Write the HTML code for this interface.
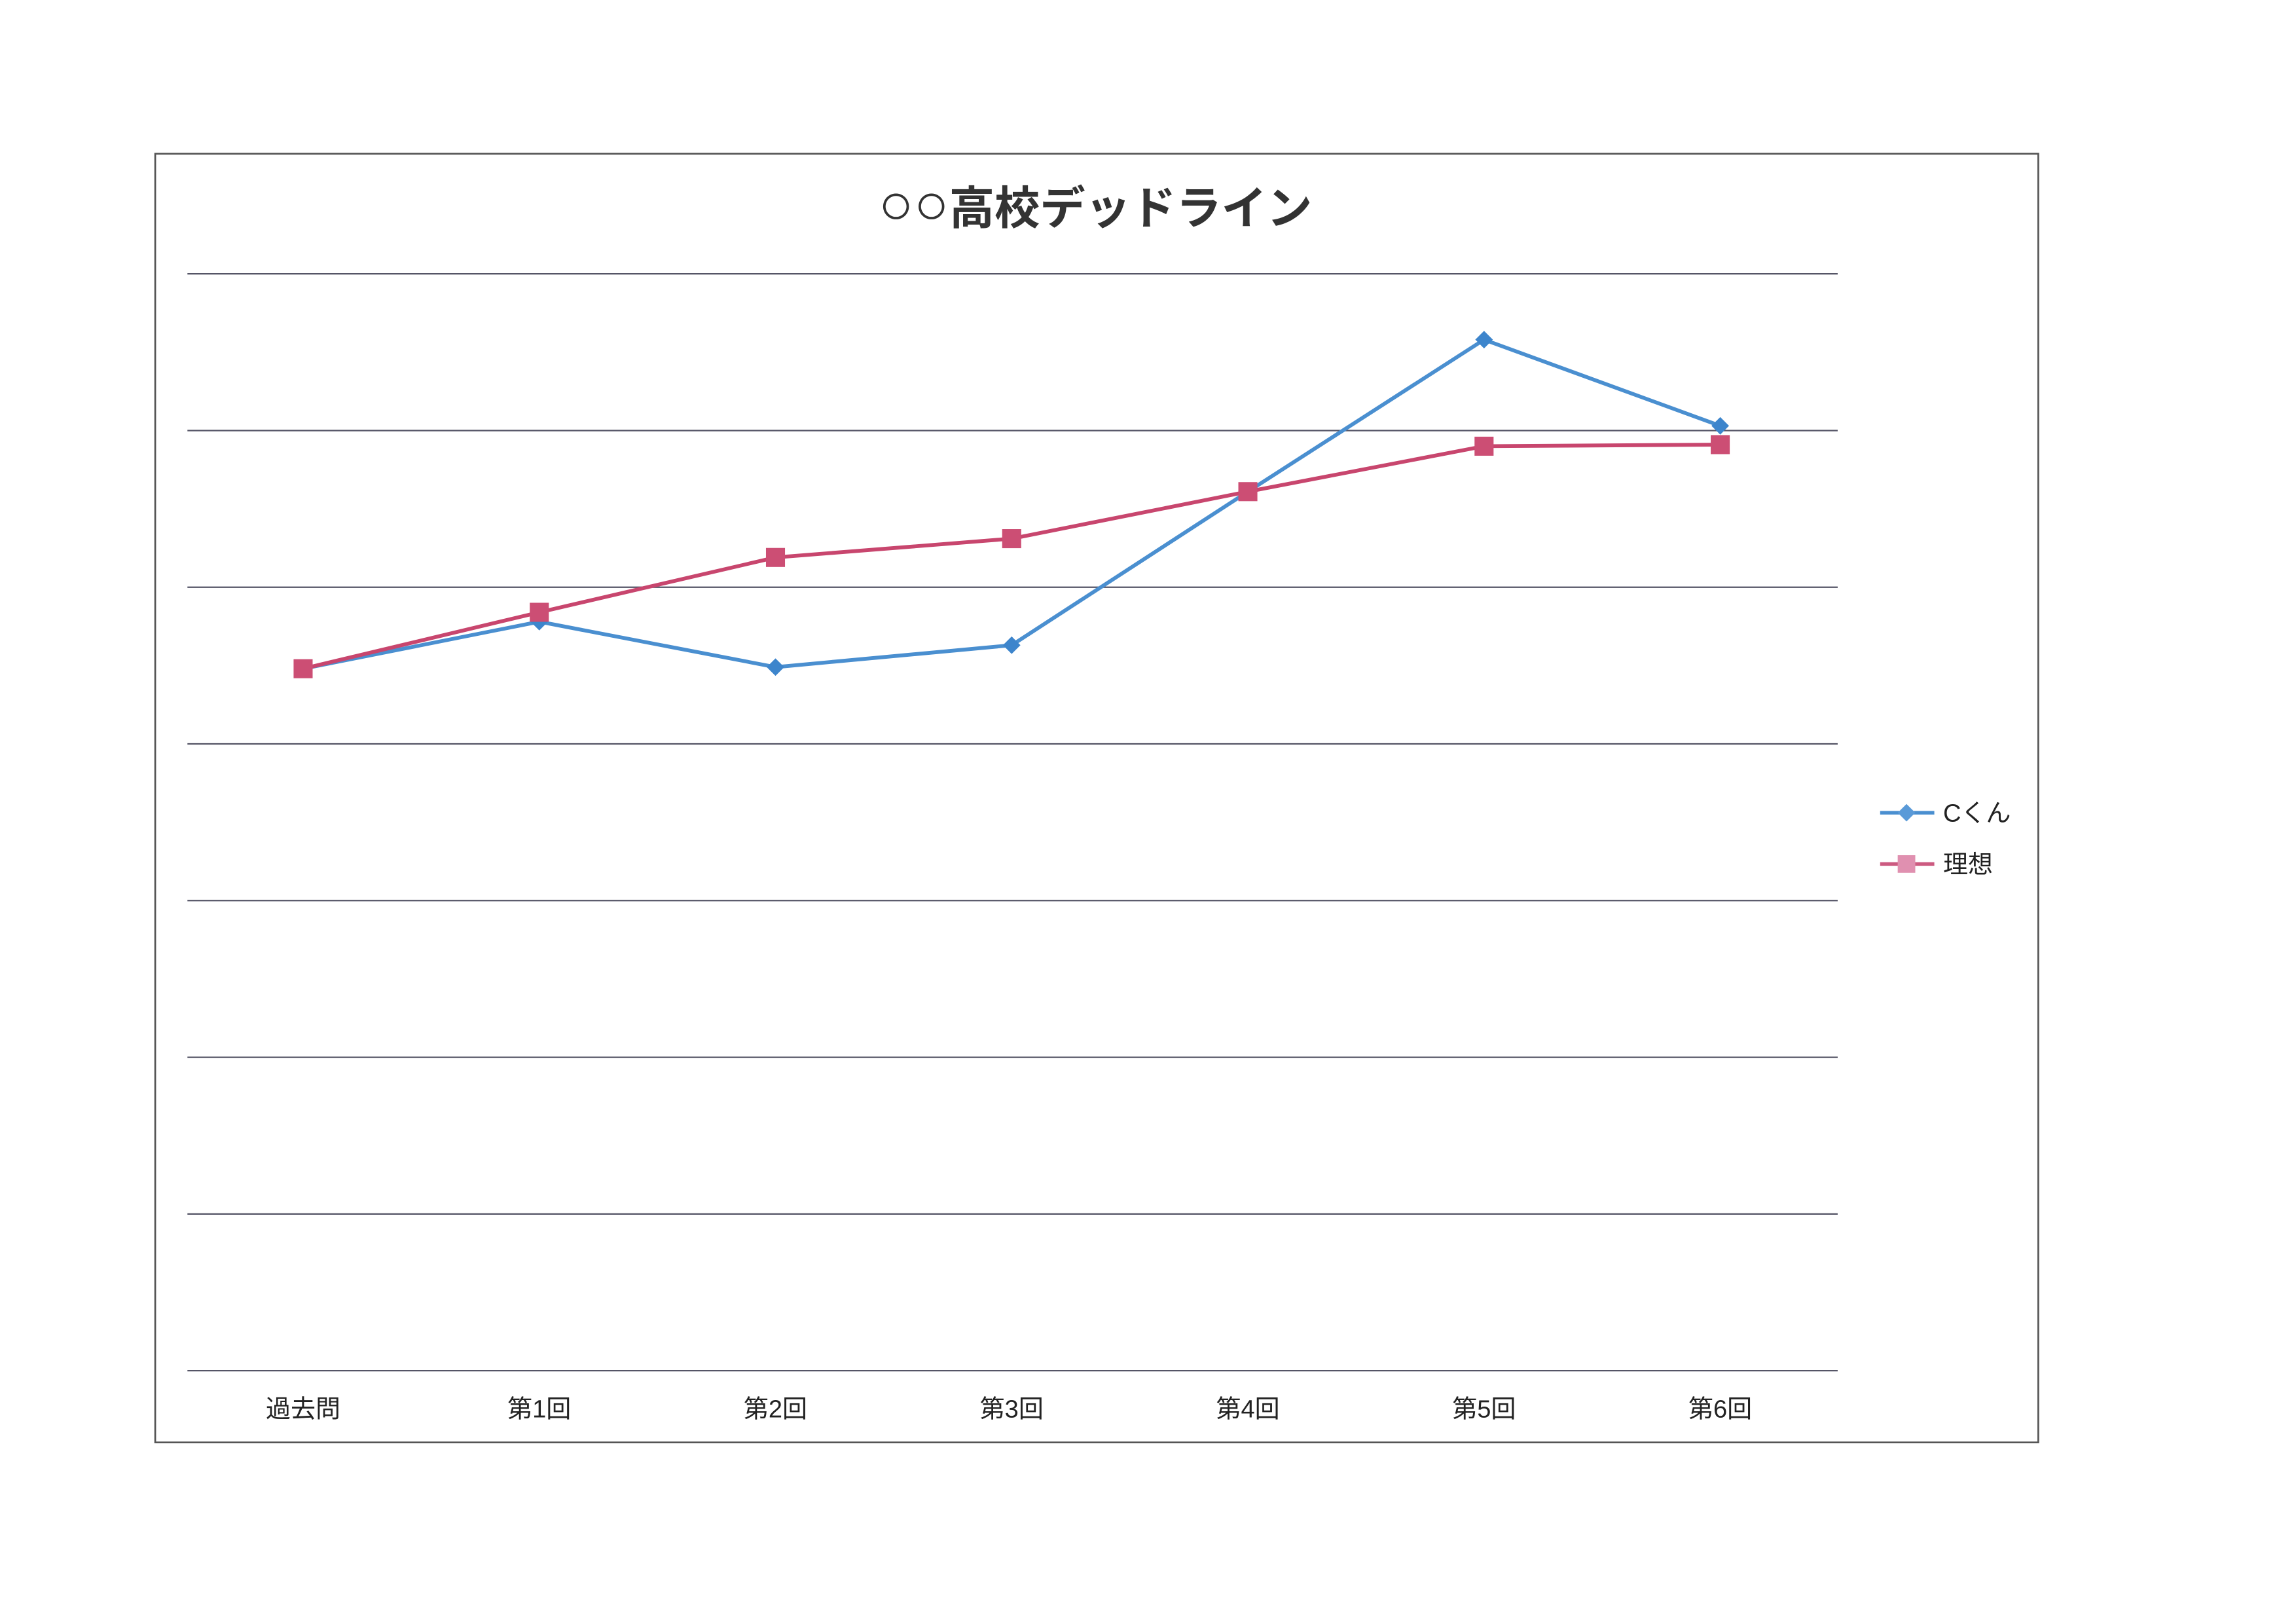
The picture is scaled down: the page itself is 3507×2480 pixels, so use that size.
<!DOCTYPE html>
<html><head><meta charset="utf-8"><style>
html,body{margin:0;padding:0;background:#fff;}
svg{display:block;}
text{font-family:"Liberation Sans","Noto Sans CJK JP",sans-serif;}
</style></head><body>
<svg id="chart" width="3507" height="2480" viewBox="0 0 1568 1109" preserveAspectRatio="none" xmlns="http://www.w3.org/2000/svg">
<rect x="0" y="0" width="1568" height="1109" fill="#fff"/>
<rect x="106" y="105" width="1286" height="880" fill="none" stroke="#555" stroke-width="1.2"/>
<text x="748" y="153" text-anchor="middle" font-size="31" font-weight="bold" fill="#333"><tspan font-size="40" font-weight="normal">○○</tspan>高校デッドライン</text>
<g id="grid"></g>
<g id="xlabels"></g>
<g id="series"></g>
<g>
<line x1="1284" y1="555" x2="1321" y2="555" stroke="#4a8fd0" stroke-width="2.5"/>
<path d="M1302 549 L1308 555 L1302 561 L1296 555 Z" fill="#5a9ad8"/>
<text x="1327" y="561" font-size="17" fill="#222">Cくん</text>
<line x1="1284" y1="590" x2="1321" y2="590" stroke="#cc5a80" stroke-width="2.5"/>
<rect x="1296" y="584" width="12" height="12" fill="#e090b0"/>
<text x="1327" y="596" font-size="17" fill="#222">理想</text>
</g>
</svg>
<script>
const categories=["過去問","第1回","第2回","第3回","第4回","第5回","第6回"];
const seriesC=[4.48,4.78,4.49,4.63,5.61,6.58,6.03];
const seriesIdeal=[4.48,4.84,5.19,5.31,5.61,5.90,5.91];
const gridValues=[0,1,2,3,4,5,6,7];
const NS="http://www.w3.org/2000/svg";
const x0=128,x1=1255,yBottom=936,yTop=187,yMax=7;
function xScale(i){return 207+i*161.3;}
function yScale(v){return yBottom-(v/yMax)*(yBottom-yTop);}
function mk(t,a,p){const e=document.createElementNS(NS,t);for(const k in a)e.setAttribute(k,a[k]);p.appendChild(e);return e;}
const grid=document.getElementById('grid');
gridValues.forEach(v=>{const l=mk('line',{x1:x0,x2:x1,y1:yScale(v),y2:yScale(v),stroke:'#556',"stroke-width":1},grid);

});
const xl=document.getElementById('xlabels');
categories.forEach((c,i)=>{const t=mk('text',{x:xScale(i),y:968,"text-anchor":"middle","font-size":17,fill:'#222'},xl);t.textContent=c;

});
const sg=document.getElementById('series');
function line(vals,color,name){const p=mk('polyline',{points:vals.map((v,i)=>xScale(i)+','+yScale(v)).join(' '),fill:'none',stroke:color,"stroke-width":2.6},sg);

}
line(seriesC,'#4a8fd0','c-kun-line');
line(seriesIdeal,'#c8466e','ideal-line');
seriesC.forEach((v,i)=>{const x=xScale(i),y=yScale(v);const d=mk('path',{d:`M${x} ${y-6}L${x+6} ${y}L${x} ${y+6}L${x-6} ${y}Z`,fill:'#3d85cc'},sg);

});
seriesIdeal.forEach((v,i)=>{const x=xScale(i),y=yScale(v);const r=mk('rect',{x:x-6.5,y:y-6.5,width:13,height:13,fill:'#cc4e74'},sg);

});
</script>
</body></html>
